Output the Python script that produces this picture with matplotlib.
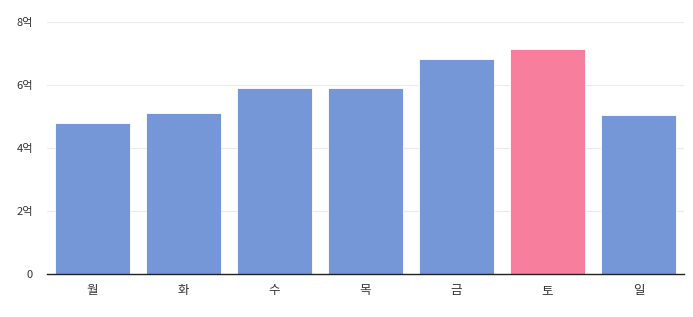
import matplotlib
matplotlib.use("Agg")
import matplotlib.pyplot as plt

plt.rcParams['font.family'] = ['Noto Sans CJK KR', 'DejaVu Sans']

days = ['월', '화', '수', '목', '금', '토', '일']
values = [4.78, 5.10, 5.89, 5.90, 6.84, 7.15, 5.06]  # 단위: 억
highlight = '토'
ytick_vals = [0, 2, 4, 6, 8]
ytick_labels = ['0', '2억', '4억', '6억', '8억']

blue = '#7596d7'
pink = '#f87e9d'
colors = [pink if d == highlight else blue for d in days]

fig = plt.figure(figsize=(6.93, 3.17), dpi=100)
ax = fig.add_axes([47/693, 43/317, 637/693, 252/317])
x = range(len(days))
ax.bar(x, values, width=0.82, color=colors, edgecolor='white', linewidth=0.6, zorder=2)
ax.set_xlim(-0.5, len(days) - 0.5)
ax.set_ylim(0, 8)
ax.set_yticks(ytick_vals)
ax.set_yticklabels(ytick_labels)
ax.set_xticks(list(x))
ax.set_xticklabels(days)
ax.grid(axis='y', color='#ebebeb', linewidth=0.8, zorder=0)
for s in ['top', 'right', 'left']:
    ax.spines[s].set_visible(False)
ax.spines['bottom'].set_color('#222222')
ax.spines['bottom'].set_linewidth(1.0)
ax.tick_params(axis='y', length=0, pad=10, labelsize=8, labelcolor='#333333')
ax.tick_params(axis='x', length=0, pad=7, labelsize=9, labelcolor='#333333')
for lbl in ax.get_yticklabels() + ax.get_xticklabels():
    lbl.set_fontweight('medium')
fig.savefig('out.png', dpi=100)
